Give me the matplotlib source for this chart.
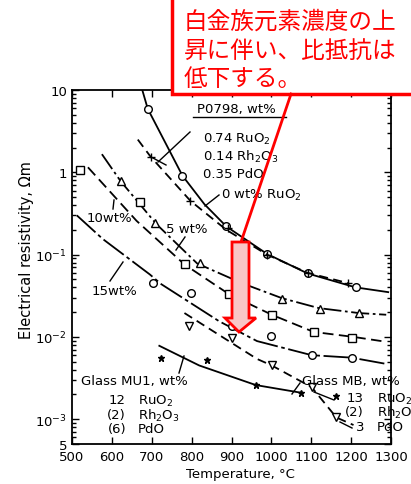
import numpy as np
import matplotlib
matplotlib.use('Agg')
from matplotlib import pyplot as plt
from matplotlib.patches import Rectangle, Polygon
from matplotlib.lines import Line2D

W, H = 411, 485

# --- data (T in degC, resistivity in ohm m) ---
# P0798 glass, 0 wt% RuO2 (circles, solid)
t_0 = [675, 690, 777, 832, 887, 989, 1091, 1211, 1293]
r_0 = [10.5, 5.9, 0.91, 0.41, 0.22, 0.102, 0.059, 0.040, 0.035]
t_0m = [690, 777, 887, 989, 1091, 1211]
r_0m = [5.9, 0.91, 0.22, 0.102, 0.059, 0.040]

# P0798 glass with 0.74 RuO2 / 0.14 Rh2O3 / 0.35 PdO (crosses, dashed)
t_p = [665, 697, 797, 887, 989, 1091, 1193]
r_p = [2.5, 1.55, 0.45, 0.20, 0.10, 0.060, 0.045]
t_pm = [697, 797, 890, 989, 1091, 1193]
r_pm = [1.55, 0.45, 0.21, 0.10, 0.060, 0.045]

# 5 wt% (triangles, dash-dot)
t_5 = [575, 622, 712, 814, 926, 1027, 1119, 1219, 1288]
r_5 = [1.66, 0.78, 0.234, 0.078, 0.045, 0.0295, 0.0224, 0.0195, 0.0186]
t_5m = [622, 709, 822, 926, 1027, 1121, 1221]
r_5m = [0.78, 0.245, 0.079, 0.046, 0.029, 0.022, 0.0195]

# 10 wt% (squares, dashed)
t_10 = [540, 662, 782, 894, 1001, 1106, 1206, 1276]
r_10 = [1.15, 0.257, 0.076, 0.033, 0.0186, 0.0115, 0.0100, 0.0089]
t_10m = [520, 670, 784, 894, 1001, 1106, 1203]
r_10m = [1.06, 0.43, 0.076, 0.033, 0.0186, 0.0114, 0.0098]

# 15 wt% (circles, long dash)
t_15 = [512, 577, 695, 724, 869, 964, 1101, 1201, 1288]
r_15 = [0.30, 0.155, 0.0575, 0.0437, 0.0155, 0.0089, 0.0060, 0.0056, 0.0047]
t_15m = [702, 799, 901, 999, 1101, 1203]
r_15m = [0.0447, 0.034, 0.0135, 0.0102, 0.0060, 0.0056]

# Glass MB (inverted triangles, dashed)
t_mb = [782, 964, 1001, 1101, 1163, 1206]
r_mb = [0.0195, 0.0054, 0.0045, 0.00245, 0.00105, 0.00085]
t_mbm = [794, 901, 1001, 1101, 1163]
r_mbm = [0.0135, 0.0098, 0.0045, 0.00245, 0.00105]

# Glass MU1 (stars, solid)
t_mu = [719, 819, 961, 1074]
r_mu = [0.0078, 0.0045, 0.0026, 0.0021]
t_mum = [724, 839, 961, 1074, 1161]
r_mum = [0.0056, 0.0053, 0.0026, 0.0021, 0.0019]

xticks = [500, 600, 700, 800, 900, 1000, 1100, 1200, 1300]
yticks = [5e-4, 1e-3, 1e-2, 1e-1, 1, 10]
ylabels = ['5', '$10^{-3}$', '$10^{-2}$', '$10^{-1}$', '1', '10']


def fp(x, y):
    return x / W, 1 - y / H


fig = plt.figure(figsize=(W / 100, H / 100), dpi=100)
ax = fig.add_axes([72 / W, 1 - 445 / H, (391 - 72) / W, (445 - 91) / H])
ax.set_yscale('log')
ax.set_xlim(500, 1300)
ax.set_ylim(5e-4, 10)

lw = 1.3
mk = dict(mfc='white', mec='black', mew=1.0, ls='none', ms=5.5)
ax.plot(t_0, r_0, color='k', lw=lw)
ax.plot(t_0m, r_0m, marker='o', **mk)
ax.plot(t_p, r_p, color='k', lw=lw, dashes=(5, 3))
ax.plot(t_pm, r_pm, marker='+', ls='none', color='k', ms=6)
ax.plot(t_5, r_5, color='k', lw=lw, dashes=(10, 2, 1.5, 2))
ax.plot(t_5m, r_5m, marker='^', **mk)
ax.plot(t_10, r_10, color='k', lw=lw, dashes=(6, 3))
ax.plot(t_10m, r_10m, marker='s', **mk)
ax.plot(t_15, r_15, color='k', lw=lw, dashes=(14, 2, 2, 2))
ax.plot(t_15m, r_15m, marker='o', **mk)
ax.plot(t_mb, r_mb, color='k', lw=lw, dashes=(5, 3))
ax.plot(t_mbm, r_mbm, marker='v', **mk)
ax.plot(t_mu, r_mu, color='k', lw=lw)
ax.plot(t_mum, r_mum, marker='*', ls='none', color='k', ms=5)

ax.set_xticks(xticks)
ax.set_xticklabels([str(v) for v in xticks])
ax.set_yticks(yticks)
ax.set_yticklabels(ylabels)
ax.tick_params(direction='in', which='both', right=True, top=True, labelsize=9.5, width=1)
ax.tick_params(which='major', length=5)
ax.tick_params(which='minor', length=3)
ax.tick_params(axis='x', pad=4)
ax.tick_params(axis='y', which='minor', labelleft=False)
for s in ax.spines.values():
    s.set_linewidth(1.3)

fig.text(*fp(27, 250), 'Electrical resistivity, \u03a9m', rotation=90,
         ha='center', va='center', fontsize=10.5)
fig.text(*fp(240, 475), 'Temperature, \u00b0C', ha='center', va='center', fontsize=9.5)

fs = 9.5
# labels on the curves
fig.text(*fp(197, 109), 'P0798, wt%', va='center', fontsize=fs)
fig.add_artist(Line2D([193 / W, 286 / W], [1 - 118 / H, 1 - 118 / H], color='k', lw=1))
fig.text(*fp(203, 139), '0.74 RuO$_2$', va='center', fontsize=fs)
fig.text(*fp(203, 157), '0.14 Rh$_2$O$_3$', va='center', fontsize=fs)
fig.text(*fp(203, 175), '0.35 PdO', va='center', fontsize=fs)
fig.text(*fp(221, 195), '0 wt% RuO$_2$', va='center', fontsize=fs)
fig.text(*fp(166, 230), '5 wt%', va='center', fontsize=fs)
fig.text(*fp(87, 219), '10wt%', va='center', fontsize=fs)
fig.text(*fp(92, 292), '15wt%', va='center', fontsize=fs)

fig.text(*fp(81, 382), 'Glass MU1, wt%', va='center', fontsize=fs)
fig.text(*fp(126, 401), '12', va='center', ha='right', fontsize=fs)
fig.text(*fp(126, 416), '(2)', va='center', ha='right', fontsize=fs)
fig.text(*fp(126, 430), '(6)', va='center', ha='right', fontsize=fs)
fig.text(*fp(138, 401), 'RuO$_2$', va='center', fontsize=fs)
fig.text(*fp(138, 416), 'Rh$_2$O$_3$', va='center', fontsize=fs)
fig.text(*fp(138, 430), 'PdO', va='center', fontsize=fs)

fig.text(*fp(302, 382), 'Glass MB, wt%', va='center', fontsize=fs)
fig.text(*fp(364, 399), '13', va='center', ha='right', fontsize=fs)
fig.text(*fp(364, 413), '(2)', va='center', ha='right', fontsize=fs)
fig.text(*fp(364, 428), '3', va='center', ha='right', fontsize=fs)
fig.text(*fp(377, 399), 'RuO$_2$', va='center', fontsize=fs)
fig.text(*fp(377, 413), 'Rh$_2$O$_3$', va='center', fontsize=fs)
fig.text(*fp(377, 428), 'PdO', va='center', fontsize=fs)

leaders = [((190, 133), (158, 163)), ((153, 159), (166, 166)),
           ((219, 196), (205, 207)), ((185, 238), (176, 251)),
           ((113, 210), (114, 201)), ((110, 282), (123, 263)),
           ((179, 374), (184, 357)), ((300, 384), (292, 395)),
           ((314, 393), (334, 401)), ((340, 423), (352, 429))]
for (x0, y0), (x1, y1) in leaders:
    fig.add_artist(Line2D([x0 / W, x1 / W], [1 - y0 / H, 1 - y1 / H], color='k', lw=1))

# red callout
red = '#ff0000'
fig.add_artist(Rectangle(fp(172, 95), (420 - 172) / W, 110 / H, transform=fig.transFigure,
                         facecolor='white', edgecolor=red, lw=2.5, zorder=5))
jp = ['白金族元素濃度の上', '昇に伴い、比抵抗は', '低下する。']
for i, line in enumerate(jp):
    fig.text(*fp(184, 22 + 29 * i), line, color=red, fontsize=17, va='center',
             family=['Noto Sans CJK JP', 'DejaVu Sans'], zorder=6)
fig.add_artist(Line2D([291 / W, 241 / W], [1 - 95 / H, 1 - 243 / H], color=red, lw=2, zorder=5))
arrow_px = [(232, 243), (249, 243), (249, 319), (256, 319), (239, 333), (225, 319), (232, 319)]
fig.add_artist(Polygon([fp(x, y) for x, y in arrow_px], closed=True, transform=fig.transFigure,
                       facecolor='#f9c6c6', edgecolor=red, lw=2, zorder=5))

fig.savefig('out.png', dpi=100)
